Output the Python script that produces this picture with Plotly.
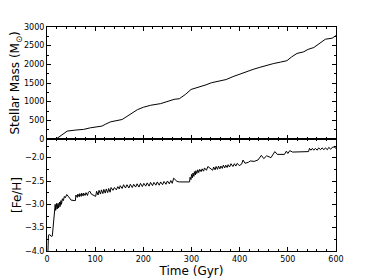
import plotly.graph_objects as go

# ---- data ----
mass_time = [19, 42, 60, 76, 90, 114, 122, 132, 156, 170, 188, 200, 215, 236, 250, 264, 275,
             288, 299, 317, 330, 341, 356, 372, 386, 400, 414, 428, 442, 456, 470, 485, 498,
             508, 519, 533, 542, 554, 566, 578, 592, 600]
stellar_mass = [0, 212, 240, 257, 300, 345, 400, 460, 522, 640, 788, 850, 903, 948, 1005, 1062, 1080,
                1200, 1327, 1389, 1450, 1505, 1550, 1593, 1670, 1740, 1805, 1865, 1920, 1975, 2020, 2060, 2097,
                2200, 2292, 2336, 2400, 2451, 2560, 2673, 2700, 2770]

feh_time = [2, 3, 6, 9, 11, 13, 15, 16, 17, 18, 20, 21, 23, 24, 26, 27, 29, 30, 32, 34, 36, 38, 41, 45, 50, 58,
            59, 60, 63, 64, 67, 68, 71, 72, 75, 76, 79, 81, 84, 86, 89, 92, 96, 101,
            103, 106, 108, 111, 113, 116, 118, 121, 123, 126, 128, 131, 133, 137,
            140, 144, 147, 150, 152, 156, 159, 163, 166, 170, 173, 177, 180, 184, 187, 191, 194, 198,
            201, 205, 208, 212, 215, 219, 222, 226, 229, 233, 236, 240, 243, 247, 250, 254, 257, 260,
            263, 270, 275, 295,
            296, 297, 299, 300, 302, 303, 305, 306, 308, 309, 311, 313, 315, 317, 320, 322, 325, 327, 331,
            334, 344, 346, 349, 351, 354, 356, 359, 361, 364, 366, 369, 371, 374, 376, 379, 382, 386,
            389, 392, 395, 399, 404, 407, 411, 418, 422, 430, 438, 445, 450, 456, 465, 473, 478, 493,
            497, 500, 504, 510, 543, 545, 548, 551, 554, 557, 561, 564, 568, 571, 575, 578, 582, 585,
            589, 592, 596, 600]
feh = [-4.0, -3.66, -3.65, -3.69, -3.68, -3.40, -3.16, -3.10, -3.00, -3.13, -2.98, -3.10, -2.98, -3.08,
       -2.95, -3.05, -2.92, -3.00, -2.88, -2.92, -2.83, -2.86, -2.79, -2.84, -2.91, -2.92,
       -2.92, -2.80, -2.85, -2.78, -2.84, -2.77, -2.83, -2.76, -2.82, -2.76, -2.81, -2.75, -2.81, -2.74,
       -2.72, -2.78, -2.81, -2.83,
       -2.72, -2.80, -2.70, -2.78, -2.69, -2.77, -2.68, -2.76, -2.67, -2.75, -2.66, -2.74, -2.64, -2.70,
       -2.64, -2.69, -2.62, -2.67, -2.60, -2.66, -2.58, -2.65, -2.58, -2.65, -2.57, -2.64, -2.57, -2.63,
       -2.56, -2.63, -2.55, -2.62,
       -2.55, -2.61, -2.54, -2.61, -2.53, -2.60, -2.53, -2.59, -2.52, -2.59, -2.52, -2.58, -2.51, -2.57,
       -2.50, -2.56, -2.49, -2.55,
       -2.44, -2.51, -2.52, -2.52,
       -2.52, -2.42, -2.47, -2.36, -2.43, -2.33, -2.40, -2.30, -2.37, -2.28, -2.34, -2.26, -2.32, -2.25,
       -2.30, -2.24, -2.29, -2.22, -2.27,
       -2.19, -2.27, -2.20, -2.26, -2.19, -2.25, -2.18, -2.24, -2.18, -2.23, -2.16, -2.22, -2.16, -2.21,
       -2.15, -2.20, -2.13, -2.19,
       -2.13, -2.18, -2.12, -2.17, -2.14, -2.05, -2.12, -2.10, -2.07, -2.08, -2.05, -1.95, -2.02, -1.96,
       -2.00, -1.87, -1.93, -1.93,
       -1.86, -1.91, -1.85, -1.88, -1.87, -1.80, -1.84, -1.80, -1.84, -1.80, -1.84, -1.79, -1.83, -1.79,
       -1.83, -1.79, -1.83, -1.78, -1.82,
       -1.78, -1.77, -1.80, -1.76]

x_ticks = [0, 100, 200, 300, 400, 500, 600]

FONT = "DejaVu Sans"

fig = go.Figure()
fig.add_trace(go.Scatter(x=mass_time, y=stellar_mass, mode="lines",
                         line=dict(color="black", width=1), xaxis="x", yaxis="y", showlegend=False))
fig.add_trace(go.Scatter(x=feh_time, y=feh, mode="lines",
                         line=dict(color="black", width=1), xaxis="x2", yaxis="y2", showlegend=False))

common_axis = dict(showline=True, linecolor="black", linewidth=1, mirror="allticks",
                   ticks="inside", ticklen=4, tickcolor="black", showgrid=False, zeroline=False,
                   automargin=False,
                   tickfont=dict(family=FONT, size=8, color="black"))

# page body adds an 8px offset, margins compensate for it
fig.update_layout(
    width=374, height=280,
    margin=dict(l=39, r=46, t=19, b=37),
    paper_bgcolor="white", plot_bgcolor="white",
    font=dict(family=FONT, color="black"),
    xaxis=dict(domain=[0, 1], anchor="y", range=[0, 600], tickvals=x_ticks, showticklabels=False,
               minor=dict(dtick=20, ticks="inside", ticklen=2, tickcolor="black"), **common_axis),
    yaxis=dict(domain=[0.5, 1], anchor="x", range=[0, 3000], dtick=500,
               minor=dict(dtick=250, ticks="inside", ticklen=2, tickcolor="black"),
               title=dict(text="Stellar Mass (M<sub>⊙</sub>)", font=dict(family=FONT, size=12), standoff=1),
               **common_axis),
    xaxis2=dict(domain=[0, 1], anchor="y2", range=[0, 600], tickvals=x_ticks, matches="x",
                minor=dict(dtick=20, ticks="inside", ticklen=2, tickcolor="black"),
                title=dict(text="Time (Gyr)", font=dict(family=FONT, size=12), standoff=2),
                **common_axis),
    yaxis2=dict(domain=[0, 0.5], anchor="x2", range=[-4.0, -1.6], tickvals=[-4.0, -3.5, -3.0, -2.5, -2.0],
                tickformat=".1f",
                minor=dict(dtick=0.25, ticks="inside", ticklen=2, tickcolor="black"),
                title=dict(text="[Fe/H]", font=dict(family=FONT, size=12), standoff=0),
                **common_axis),
)

fig.write_html("out.html")
